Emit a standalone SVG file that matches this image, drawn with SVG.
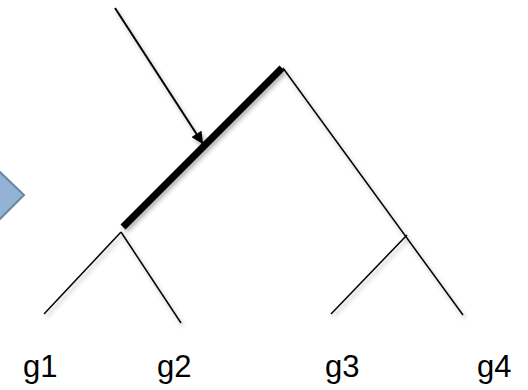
<svg xmlns="http://www.w3.org/2000/svg" width="528" height="390" viewBox="0 0 528 390">
<defs>
<filter id="sh" x="-20%" y="-20%" width="140%" height="140%">
<feDropShadow dx="2" dy="3" stdDeviation="2" flood-color="#000" flood-opacity="0.3"/>
</filter>
<marker id="ah" viewBox="0 0 10 10" refX="10" refY="5" markerWidth="6.5" markerHeight="6" orient="auto" markerUnits="strokeWidth">
<path d="M0,0 L10,5 L0,10 z" fill="#000"/>
</marker>
<style>
.br{stroke:#000;stroke-width:1.5;fill:none;stroke-linecap:butt}
.lb{font-family:"Liberation Sans",Arial,sans-serif;font-size:31px;fill:#000}
</style>
</defs>
<g id="pointer-shape">
<path d="M-10,172 L0,172 L24,195 L0,219 L-10,219 z" fill="#93b3d4" stroke="#6a86a2" stroke-width="2"/>
</g>
<g id="connectors" filter="url(#sh)">
<line class="br" x1="283" y1="68" x2="463" y2="315"/>
<line class="br" x1="121" y1="232" x2="44" y2="314"/>
<line class="br" x1="121" y1="232" x2="181" y2="323"/>
<line class="br" x1="407" y1="235" x2="331" y2="314"/>
<line x1="123" y1="227" x2="282" y2="68" stroke="#000" stroke-width="7"/>
<line x1="115" y1="8" x2="203" y2="144" stroke="#000" stroke-width="2" marker-end="url(#ah)"/>
</g>
<g id="g1"><text class="lb" x="23" y="377">g1</text></g>
<g id="g2"><text class="lb" x="157" y="377">g2</text></g>
<g id="g3"><text class="lb" x="325" y="377">g3</text></g>
<g id="g4"><text class="lb" x="477" y="377">g4</text></g>
</svg>
